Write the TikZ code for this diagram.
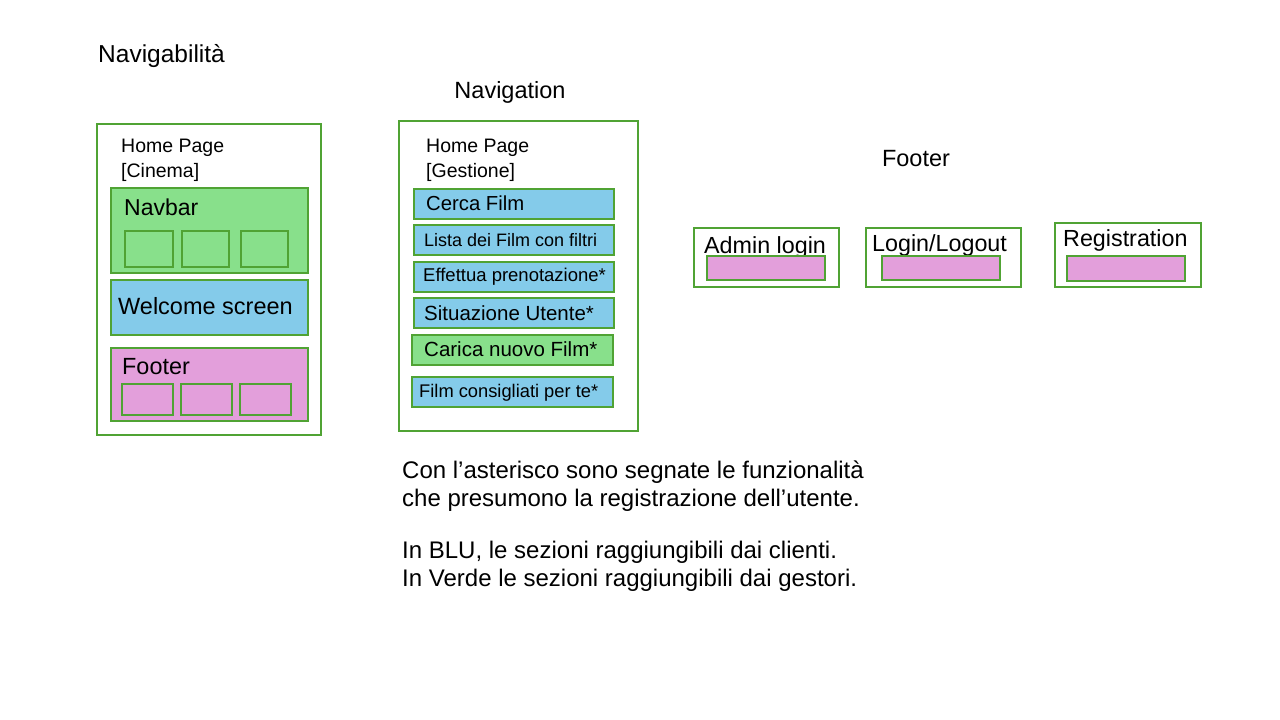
\documentclass[tikz,border=0pt]{standalone}
\usepackage{fontspec}
\setmainfont{Liberation Sans}
\definecolor{lgreen}{RGB}{136,224,139}
\definecolor{lblue}{RGB}{132,203,234}
\definecolor{lpink}{RGB}{227,159,219}
\definecolor{edge}{RGB}{80,163,52}
\newcommand{\fs}[1]{\fontsize{#1}{#1}\selectfont}
\begin{document}
\begin{tikzpicture}[x=1pt,y=-1pt,
  frame/.style={draw=edge,line width=1.6,anchor=north west,inner sep=0,outer sep=0},
  gbox/.style={frame,fill=lgreen},
  bbox/.style={frame,fill=lblue},
  pbox/.style={frame,fill=lpink},
  wbox/.style={frame,fill=white},
  lbl/.style={anchor=base west,inner sep=0,text=black}]
\useasboundingbox[fill=white] (0,0) rectangle (1280,720);
% titles
\node[lbl,font=\fs{24.5}] (t1) at (98,62) {Navigabilità};
\node[anchor=base,inner sep=0,font=\fs{23.5}] (t2) at (510,98) {Navigation};
\node[anchor=base,inner sep=0,font=\fs{23.5}] (t3) at (916,166) {Footer};
% left panel
\node[wbox,minimum width=224,minimum height=311] (L) at (97,124) {};
\node[lbl,font=\fs{19.5}] (lh1) at (121,152) {Home Page};
\node[lbl,font=\fs{19.5}] (lh2) at (121,177) {[Cinema]};
\node[gbox,minimum width=197,minimum height=85] (nav) at (111,188) {};
\node[lbl,font=\fs{23}] (navt) at (124,215) {Navbar};
\node[gbox,minimum width=48,minimum height=36] (n1) at (125,231) {};
\node[gbox,minimum width=47,minimum height=36] (n2) at (182,231) {};
\node[gbox,minimum width=47,minimum height=36] (n3) at (241,231) {};
\node[bbox,minimum width=197,minimum height=55] (wel) at (111,280) {};
\node[lbl,font=\fs{23.5}] (welt) at (118,314) {Welcome screen};
\node[pbox,minimum width=197,minimum height=73] (foot) at (111,348) {};
\node[lbl,font=\fs{23.4}] (foott) at (122,374) {Footer};
\node[pbox,minimum width=51,minimum height=31] (f1) at (122,384) {};
\node[pbox,minimum width=51,minimum height=31] (f2) at (181,384) {};
\node[pbox,minimum width=51,minimum height=31] (f3) at (240,384) {};
% middle panel
\node[wbox,minimum width=239,minimum height=310] (M) at (399,121) {};
\node[lbl,font=\fs{19.5}] (mh1) at (426,152) {Home Page};
\node[lbl,font=\fs{19.5}] (mh2) at (426,177) {[Gestione]};
\node[bbox,minimum width=200,minimum height=30] (m1) at (414,189) {};
\node[lbl,font=\fs{20.3}] (m1t) at (426,210) {Cerca Film};
\node[bbox,minimum width=200,minimum height=30] (m2) at (414,225) {};
\node[lbl,font=\fs{18}] (m2t) at (424,246) {Lista dei Film con filtri};
\node[bbox,minimum width=200,minimum height=30] (m3) at (414,262) {};
\node[lbl,font=\fs{18.5}] (m3t) at (423,281) {Effettua prenotazione*};
\node[bbox,minimum width=200,minimum height=30] (m4) at (414,298) {};
\node[lbl,font=\fs{20.5}] (m4t) at (424,320) {Situazione Utente*};
\node[gbox,minimum width=201,minimum height=30] (m5) at (412,335) {};
\node[lbl,font=\fs{20.5}] (m5t) at (424,356) {Carica nuovo Film*};
\node[bbox,minimum width=201,minimum height=30] (m6) at (412,377) {};
\node[lbl,font=\fs{18.3}] (m6t) at (419,397) {Film consigliati per te*};
% footer items
\node[wbox,minimum width=145,minimum height=59] (a) at (694,228) {};
\node[lbl,font=\fs{23.3}] (at) at (704,253) {Admin login};
\node[pbox,minimum width=118,minimum height=24] (ap) at (707,256) {};
\node[wbox,minimum width=155,minimum height=59] (b) at (866,228) {};
\node[lbl,font=\fs{23.3}] (bt) at (872,251) {Login/Logout};
\node[pbox,minimum width=118,minimum height=24] (bp) at (882,256) {};
\node[wbox,minimum width=146,minimum height=64] (c) at (1055,223) {};
\node[lbl,font=\fs{23.3}] (ct) at (1063,246) {Registration};
\node[pbox,minimum width=118,minimum height=25] (cp) at (1067,256) {};
% notes
\node[lbl,font=\fs{24}] (n1t) at (402,478) {Con l’asterisco sono segnate le funzionalità};
\node[lbl,font=\fs{24}] (n2t) at (402,506) {che presumono la registrazione dell’utente.};
\node[lbl,font=\fs{24}] (n3t) at (402,558) {In BLU, le sezioni raggiungibili dai clienti.};
\node[lbl,font=\fs{24}] (n4t) at (402,586) {In Verde le sezioni raggiungibili dai gestori.};
\end{tikzpicture}
\end{document}
